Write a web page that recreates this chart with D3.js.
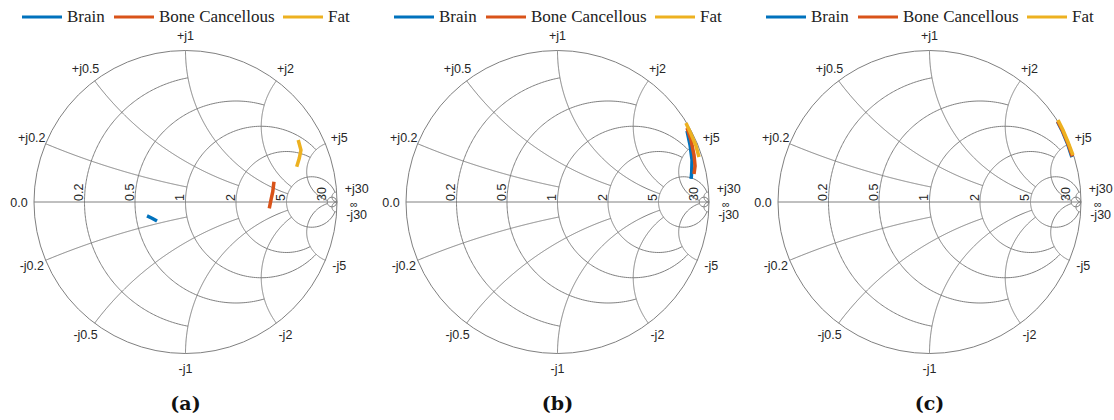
<!DOCTYPE html>
<html>
<head>
<meta charset="utf-8">
<script src="https://cdn.jsdelivr.net/npm/d3@7"></script>
<style>
body { margin: 0; background: #fff; }
</style>
</head>
<body>
<div id="chart"></div>
<script>
// series and panels
var seriesNames = ["Brain", "Bone Cancellous", "Fat"];
var seriesColors = ["#0072BD", "#D95319", "#EDB120"];
var panelLabels = ["(a)", "(b)", "(c)"];

// smith grid: circle values and the circle where each one stops
var gridValues = [30, 5, 2, 1, 0.5, 0.2];
var gridLimits = [Infinity, 30, 5, 5, 2, 1];

// reflection coefficient [re, im]
var brainA = [[-0.254, -0.092], [-0.221, -0.107], [-0.188, -0.125]];
var boneA = [[0.584, 0.134], [0.576, 0.068], [0.564, 0.013], [0.553, -0.042]];
var fatA = [[0.744, 0.409], [0.762, 0.343], [0.751, 0.288], [0.734, 0.233]];

var brainB = [[0.855, 0.469], [0.875, 0.376], [0.888, 0.277], [0.886, 0.198], [0.882, 0.152]];
var boneB = [[0.855, 0.488], [0.881, 0.409], [0.901, 0.310], [0.908, 0.238], [0.901, 0.185]];
var fatB = [[0.848, 0.521], [0.881, 0.449], [0.914, 0.370], [0.934, 0.297]];

var brainC = [[0.845, 0.530], [0.878, 0.465], [0.910, 0.388], [0.940, 0.296]];
var boneC = [[0.846, 0.534], [0.879, 0.469], [0.912, 0.391], [0.943, 0.301]];
var fatC = [[0.848, 0.541], [0.881, 0.475], [0.914, 0.396], [0.947, 0.310]];

var panelData = [[brainA, boneA, fatA], [brainB, boneB, fatB], [brainC, boneC, fatC]];

var width = 1114, height = 420;
var R = 151.5;
var panelCx = [185.5, 557.5, 929.5];
var cy = 202;
var gridColor = "#808080";
var labelFont = "'Liberation Sans', Arial, sans-serif";
var serifFont = "'Liberation Serif', 'Times New Roman', serif";

var svg = d3.select("#chart").append("svg")
	.attr("width", width)
	.attr("height", height);

// z = r + jx  ->  gamma
function gamma(r, x) {
	var d = (r + 1) * (r + 1) + x * x;
	return [(r * r + x * x - 1) / d, 2 * x / d];
}

var steps = d3.range(0, 1.00001, 1 / 240);

panelLabels.forEach(function(lab, p) {
	var cx = panelCx[p];
	var xs = d3.scaleLinear().domain([-1, 1]).range([cx - R, cx + R]);
	var ys = d3.scaleLinear().domain([-1, 1]).range([cy + R, cy - R]);
	var line = d3.line()
		.x(function(d) { return xs(d[0]); })
		.y(function(d) { return ys(d[1]); });
	var g = svg.append("g");

	// outer circle and real axis
	g.append("circle")
		.attr("cx", xs(0)).attr("cy", ys(0))
		.attr("r", xs(1) - xs(0))
		.attr("fill", "none")
		.attr("stroke", gridColor)
		.attr("stroke-width", 1);
	g.append("line")
		.attr("x1", xs(-1)).attr("x2", xs(1))
		.attr("y1", ys(0)).attr("y2", ys(0))
		.attr("stroke", gridColor)
		.attr("stroke-width", 1);

	gridValues.forEach(function(v, i) {
		var lim = gridLimits[i];
		var tmax = isFinite(lim) ? Math.atan(lim) : Math.PI / 2 - 1e-7;
		// resistance circle r = v, between x = -lim and +lim
		var rPts = steps.map(function(s) {
			return gamma(v, Math.tan(-tmax + 2 * tmax * s));
		});
		g.append("path")
			.attr("d", line(rPts))
			.attr("fill", "none")
			.attr("stroke", gridColor)
			.attr("stroke-width", 1);
		// reactance arcs x = +v and -v, from r = 0 up to r = lim
		[1, -1].forEach(function(sg) {
			var xPts = steps.map(function(s) {
				return gamma(Math.tan(tmax * s), sg * v);
			});
			g.append("path")
				.attr("d", line(xPts))
				.attr("fill", "none")
				.attr("stroke", gridColor)
				.attr("stroke-width", 1);
			// label on the rim
			var rim = gamma(0, sg * v);
			var ang = Math.atan2(rim[1], rim[0]);
			var off = 15 + (v >= 30 ? 5 : 0);
			g.append("text")
				.attr("x", xs(rim[0]) + off * Math.cos(ang))
				.attr("y", ys(rim[1]) - off * Math.sin(ang) + (v >= 30 ? -sg * 1.5 : 0))
				.attr("text-anchor", "middle")
				.attr("dominant-baseline", "central")
				.style("font-family", labelFont)
				.style("font-size", "12.5px")
				.style("fill", "#262626")
				.text((sg > 0 ? "+j" : "-j") + v);
		});
		// resistance label along the real axis
		var gx = gamma(v, 0)[0];
		g.append("text")
			.attr("transform", "translate(" + (xs(gx) - 1.5) + "," + (ys(0) - 1) + ") rotate(-90)")
			.attr("text-anchor", "start")
			.style("font-family", labelFont)
			.style("font-size", "12.5px")
			.style("fill", "#262626")
			.text(v);
	});

	g.append("text")
		.attr("x", xs(-1) - 15).attr("y", ys(0) + 1)
		.attr("text-anchor", "middle")
		.attr("dominant-baseline", "central")
		.style("font-family", labelFont)
		.style("font-size", "12.5px")
		.style("fill", "#262626")
		.text("0.0");
	g.append("text")
		.attr("x", xs(1) + 17).attr("y", ys(0) + 2)
		.attr("text-anchor", "middle")
		.attr("dominant-baseline", "central")
		.style("font-family", labelFont)
		.style("font-size", "11px")
		.style("fill", "#262626")
		.text("\u221E");

	// data traces
	panelData[p].forEach(function(pts, k) {
		g.append("path")
			.attr("d", line(pts))
			.attr("fill", "none")
			.attr("stroke", seriesColors[k])
			.attr("stroke-width", 3.5)
			.attr("stroke-linecap", "butt");
	});

	// legend
	var legX = [cx - 163.5, cx - 71.5, cx + 97.5];
	seriesNames.forEach(function(name, k) {
		g.append("line")
			.attr("x1", legX[k]).attr("x2", legX[k] + 40)
			.attr("y1", 17).attr("y2", 17)
			.attr("stroke", seriesColors[k])
			.attr("stroke-width", 3);
		g.append("text")
			.attr("x", legX[k] + 45).attr("y", 22)
			.style("font-family", serifFont)
			.style("font-size", "17px")
			.style("fill", "#222")
			.text(name);
	});

	g.append("text")
		.attr("x", cx).attr("y", 410)
		.attr("text-anchor", "middle")
		.style("font-family", "'DejaVu Serif', serif")
		.style("font-weight", "bold")
		.style("font-size", "19px")
		.style("fill", "#111")
		.text(lab);
});
</script>
</body>
</html>
